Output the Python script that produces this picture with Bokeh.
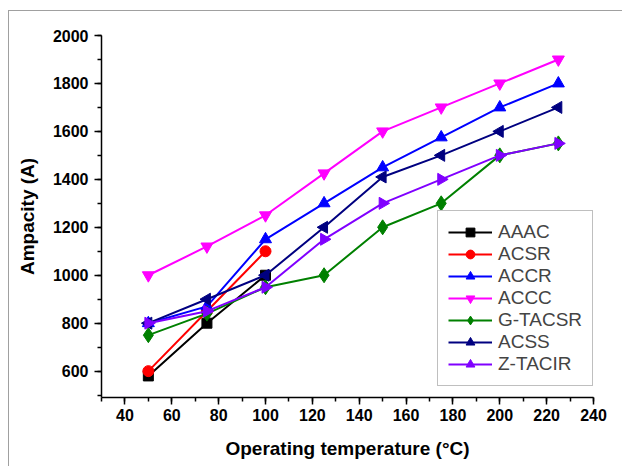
import math
from bokeh.plotting import figure
from bokeh.models import Legend, LegendItem, FixedTicker
from bokeh.embed import file_html
from bokeh.resources import INLINE

temps = [50, 75, 100, 125, 150, 175, 200, 225]
aaac = [580, 800, 1000]
acsr = [600, 850, 1100]
accr = [800, 870, 1150, 1300, 1450, 1575, 1700, 1800]
accc = [1000, 1120, 1250, 1425, 1600, 1700, 1800, 1900]
gtacsr = [750, 840, 950, 1000, 1200, 1300, 1500, 1550]
acss = [800, 900, 1000, 1200, 1410, 1500, 1600, 1700]
ztacir = [800, 850, 950, 1150, 1300, 1400, 1500, 1550]

names = ["AAAC", "ACSR", "ACCR", "ACCC", "G-TACSR", "ACSS", "Z-TACIR"]
x_ticks = [40, 60, 80, 100, 120, 140, 160, 180, 200, 220, 240]
y_ticks = [600, 800, 1000, 1200, 1400, 1600, 1800, 2000]

series = [
    (aaac, "#000000", "square", 0.0, 10),
    (acsr, "#FF0000", "circle", 0.0, 11),
    (accr, "#0000FF", "triangle", 0.0, 12),
    (accc, "#FF00FF", "inverted_triangle", 0.0, 12),
    (gtacsr, "#008000", "diamond", 0.0, 15),
    (acss, "#000080", "triangle", math.pi / 2, 12),
    (ztacir, "#8000FF", "triangle", -math.pi / 2, 12),
]

p = figure(width=614, height=456, x_range=(30, 240), y_range=(490, 2000),
           output_backend="svg", toolbar_location=None,
           min_border_left=92, min_border_right=30, min_border_top=24, min_border_bottom=70)
p.styles = {"margin-left": "8px", "margin-top": "10px",
            "border-left": "1px solid #a0a0a0", "border-top": "1px solid #a0a0a0"}
p.outline_line_color = None
p.xgrid.grid_line_color = None
p.ygrid.grid_line_color = None

items = []
for name, (vals, col, mk, ang, sz) in zip(names, series):
    xs = temps[:len(vals)]
    r1 = p.line(xs, vals, line_color=col, line_width=2)
    r2 = p.scatter(xs, vals, marker=mk, angle=ang, size=sz, fill_color=col, line_color=col)
    items.append(LegendItem(label=name, renderers=[r1, r2]))

legend = Legend(items=items, location=(336, 11))
legend.label_text_font = "Liberation Sans"
legend.label_text_font_size = "19px"
legend.glyph_width = 44
legend.glyph_height = 22
legend.label_height = 22
legend.label_standoff = 6
legend.spacing = 0
legend.padding = 10
legend.margin = 0
legend.border_line_color = "#808080"
legend.border_line_width = 1.5
legend.background_fill_alpha = 1
p.add_layout(legend, "center")

for ax in (p.xaxis[0], p.yaxis[0]):
    ax.axis_line_width = 1.5
    ax.major_tick_line_width = 1.5
    ax.minor_tick_line_width = 1.5
    ax.major_tick_out = 7
    ax.major_tick_in = 0
    ax.minor_tick_out = 4
    ax.minor_tick_in = 0
    ax.major_label_text_font = "Liberation Sans"
    ax.major_label_text_font_style = "bold"
    ax.major_label_text_font_size = "16px"
    ax.major_label_text_color = "#000000"
    ax.axis_label_text_font = "Liberation Sans"
    ax.axis_label_text_font_style = "bold"
    ax.axis_label_text_font_size = "19px"
    ax.axis_label_text_color = "#000000"

p.xaxis.ticker = FixedTicker(ticks=x_ticks, minor_ticks=list(range(30, 241, 10)))
p.yaxis.ticker = FixedTicker(ticks=y_ticks, minor_ticks=list(range(500, 2001, 100)))
p.xaxis.axis_label = "Operating temperature (°C)"
p.yaxis.axis_label = "Ampacity (A)"
p.xaxis.major_label_standoff = 4
p.yaxis.major_label_standoff = 6
p.xaxis.axis_label_standoff = 14
p.yaxis.axis_label_standoff = 12

open("out.html", "w").write(file_html(p, INLINE))
